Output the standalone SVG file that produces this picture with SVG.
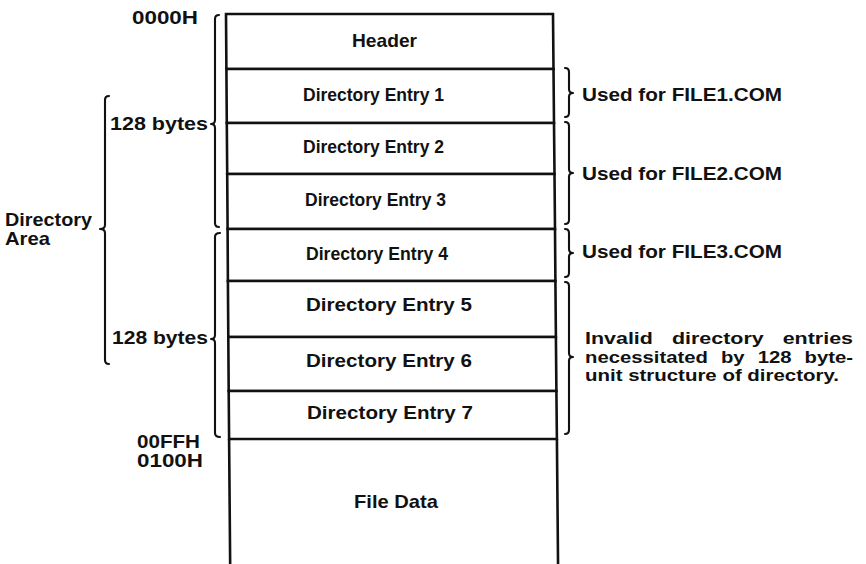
<svg xmlns="http://www.w3.org/2000/svg" width="866" height="564" viewBox="0 0 866 564">
  <style>
    .cell { fill: #ffffff; stroke: #111111; stroke-width: 2.6; stroke-linejoin: miter; }
    .side { fill: none; stroke: #111111; stroke-width: 2.6; }
    .brace { fill: none; stroke: #111111; stroke-width: 2.1; stroke-linecap: round; stroke-linejoin: round; }
    text { font-family: "Liberation Sans", Arial, Helvetica, sans-serif; font-weight: bold; font-size: 19px; fill: #111111; }
    .small { font-size: 17.5px; }
    .note { font-size: 16.4px; }
  </style>
  <rect x="0" y="0" width="866" height="564" fill="#ffffff"/>

  <!-- Directory stack: one cell per node -->
  <g id="header">
    <polygon class="cell" points="226,14 553,14 553.5,69 226.4,69"/>
    <text x="352" y="47" textLength="65" lengthAdjust="spacingAndGlyphs">Header</text>
  </g>
  <g id="entry1">
    <polygon class="cell" points="226.4,69 553.5,69 554,123 226.8,123"/>
    <text class="small" x="303" y="101" textLength="141" lengthAdjust="spacingAndGlyphs">Directory Entry 1</text>
  </g>
  <g id="entry2">
    <polygon class="cell" points="226.8,123 554,123 554.5,174 227.2,174"/>
    <text class="small" x="303" y="153" textLength="141" lengthAdjust="spacingAndGlyphs">Directory Entry 2</text>
  </g>
  <g id="entry3">
    <polygon class="cell" points="227.2,174 554.5,174 555,229 227.6,229"/>
    <text class="small" x="305" y="206" textLength="141" lengthAdjust="spacingAndGlyphs">Directory Entry 3</text>
  </g>
  <g id="entry4">
    <polygon class="cell" points="227.6,229 555,229 555.4,281 227.9,281"/>
    <text class="small" x="306" y="260" textLength="142" lengthAdjust="spacingAndGlyphs">Directory Entry 4</text>
  </g>
  <g id="entry5">
    <polygon class="cell" points="227.9,281 555.4,281 555.9,337 228.3,337"/>
    <text x="306" y="311" textLength="166" lengthAdjust="spacingAndGlyphs">Directory Entry 5</text>
  </g>
  <g id="entry6">
    <polygon class="cell" points="228.3,337 555.9,337 556.4,391 228.7,391"/>
    <text x="306" y="367" textLength="166" lengthAdjust="spacingAndGlyphs">Directory Entry 6</text>
  </g>
  <g id="entry7">
    <polygon class="cell" points="228.7,391 556.4,391 556.9,439 229.1,439"/>
    <text x="307" y="419" textLength="166" lengthAdjust="spacingAndGlyphs">Directory Entry 7</text>
  </g>
  <g id="file-data">
    <path class="side" d="M229.1,439 L230.2,570 M556.9,439 L558.1,570"/>
    <text x="354" y="508" textLength="84" lengthAdjust="spacingAndGlyphs">File Data</text>
  </g>

  <!-- Address labels -->
  <g id="addr-start">
    <text x="132" y="24" textLength="66" lengthAdjust="spacingAndGlyphs">0000H</text>
  </g>
  <g id="addr-end">
    <text x="137" y="448" textLength="63" lengthAdjust="spacingAndGlyphs">00FFH</text>
    <text x="137" y="467" textLength="66" lengthAdjust="spacingAndGlyphs">0100H</text>
  </g>

  <!-- Size labels -->
  <g id="block1-label">
    <text x="110" y="130" textLength="98" lengthAdjust="spacingAndGlyphs">128 bytes</text>
  </g>
  <g id="block2-label">
    <text x="112" y="344" textLength="96" lengthAdjust="spacingAndGlyphs">128 bytes</text>
  </g>
  <g id="directory-area">
    <text x="5" y="226" textLength="87" lengthAdjust="spacingAndGlyphs">Directory</text>
    <text x="5" y="245" textLength="45" lengthAdjust="spacingAndGlyphs">Area</text>
  </g>

  <!-- Usage notes -->
  <g id="note-file1">
    <text x="582" y="101" textLength="200" lengthAdjust="spacingAndGlyphs">Used for FILE1.COM</text>
  </g>
  <g id="note-file2">
    <text x="582" y="180" textLength="200" lengthAdjust="spacingAndGlyphs">Used for FILE2.COM</text>
  </g>
  <g id="note-file3">
    <text x="582" y="258" textLength="200" lengthAdjust="spacingAndGlyphs">Used for FILE3.COM</text>
  </g>
  <g id="note-invalid">
    <text class="note" x="585" y="344" word-spacing="10" textLength="268" lengthAdjust="spacingAndGlyphs">Invalid directory entries</text>
    <text class="note" x="585" y="362.5" word-spacing="6" textLength="268" lengthAdjust="spacingAndGlyphs">necessitated by 128 byte-</text>
    <text class="note" x="585" y="381" textLength="254" lengthAdjust="spacingAndGlyphs">unit structure of directory.</text>
  </g>

  <!-- Braces -->
  <g id="connectors">
    <path class="brace" d="M109,96 Q105,96 105,100 L105,225 Q105,229 100,229 Q105,229 105,233 L105,360 Q105,364 109,364"/>
    <path class="brace" d="M219,15 Q215,15 215,19 L215,120 Q215,124 211,124 Q215,124 215,128 L215,223 Q215,227 219,227"/>
    <path class="brace" d="M220,233 Q215,233 215,237 L215,335 Q215,339 211,339 Q215,339 215,343 L215,433 Q215,437 220,437"/>
    <path class="brace" d="M565,68 Q569,68 569,72 L569,89 Q569,93 573,93 Q569,93 569,97 L569,113 Q569,117 565,117"/>
    <path class="brace" d="M565,122 Q569,122 569,126 L569,169 Q569,173 573,173 Q569,173 569,177 L569,220 Q569,224 565,224"/>
    <path class="brace" d="M565,229 Q569,229 569,233 L569,249 Q569,253 573,253 Q569,253 569,257 L569,273 Q569,277 565,277"/>
    <path class="brace" d="M565,282 Q569,282 569,286 L569,353 Q569,357 573,357 Q569,357 569,361 L569,430 Q569,434 565,434"/>
  </g>
</svg>
